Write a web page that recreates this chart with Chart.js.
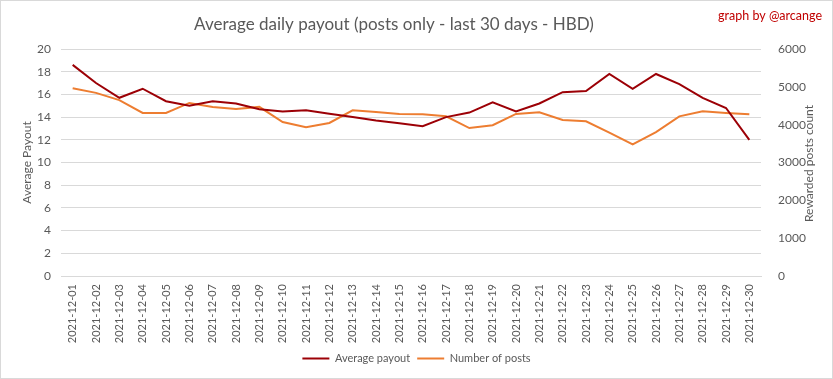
<!DOCTYPE html>
<html>
<head>
<meta charset="utf-8">
<script src="https://cdn.jsdelivr.net/npm/chart.js@4.4.1/dist/chart.umd.min.js"></script>
<style>
  html, body { margin: 0; padding: 0; background: #fff; }
  #wrap { width: 833px; height: 379px; box-sizing: border-box; border: 1px solid #d9d9d9; }
  canvas { display: block; }
</style>
</head>
<body>
<div id="wrap"><canvas id="chart" width="831" height="377"></canvas></div>
<script>
// dates shown on the x axis
const days = [
  "2021-12-01", "2021-12-02", "2021-12-03", "2021-12-04", "2021-12-05",
  "2021-12-06", "2021-12-07", "2021-12-08", "2021-12-09", "2021-12-10",
  "2021-12-11", "2021-12-12", "2021-12-13", "2021-12-14", "2021-12-15",
  "2021-12-16", "2021-12-17", "2021-12-18", "2021-12-19", "2021-12-20",
  "2021-12-21", "2021-12-22", "2021-12-23", "2021-12-24", "2021-12-25",
  "2021-12-26", "2021-12-27", "2021-12-28", "2021-12-29", "2021-12-30"
];

// average payout (HBD), left axis
const avgPayout = [
  18.6, 17.0, 15.7, 16.5, 15.4, 15.0, 15.4, 15.2, 14.7, 14.5,
  14.6, 14.3, 14.0, 13.7, 13.45, 13.2, 14.0, 14.4, 15.3, 14.5,
  15.2, 16.2, 16.3, 17.8, 16.5, 17.8, 16.9, 15.7, 14.8, 12.0
];

// rewarded posts count, right axis
const postCount = [
  4965, 4840, 4650, 4310, 4310, 4575, 4470, 4415, 4470, 4070,
  3930, 4045, 4380, 4335, 4280, 4275, 4220, 3910, 3985, 4285,
  4330, 4125, 4090, 3790, 3480, 3805, 4220, 4355, 4310, 4275
];

const leftTicks = [0, 2, 4, 6, 8, 10, 12, 14, 16, 18, 20];
const rightTicks = [0, 1000, 2000, 3000, 4000, 5000, 6000];

const FONT = "Lato, 'Liberation Sans', sans-serif";
const GREY = "#595959";

// title, credit and right axis title (reads bottom to top like the left one)
const extraText = {
  id: "extraText",
  afterDraw(chart) {
    const ctx = chart.ctx;
    const area = chart.chartArea;
    ctx.save();
    ctx.textBaseline = "middle";
    ctx.fillStyle = GREY;
    ctx.font = "17px " + FONT;
    ctx.textAlign = "center";
    ctx.fillText("Average daily payout (posts only - last 30 days - HBD)", 393, 24);

    ctx.fillStyle = "#c00000";
    ctx.font = "12.5px " + FONT;
    ctx.textAlign = "right";
    ctx.fillText("graph by @arcange", 821, 15);

    ctx.fillStyle = GREY;
    ctx.font = "12px " + FONT;
    ctx.textAlign = "center";
    ctx.translate(808, (area.top + area.bottom) / 2 + 1);
    ctx.rotate(-Math.PI / 2);
    ctx.fillText("Rewarded posts count", 0, 0);
    ctx.restore();
  }
};

new Chart(document.getElementById("chart"), {
  type: "line",
  data: {
    labels: days,
    datasets: [
      {
        label: "Average payout",
        data: avgPayout,
        yAxisID: "y",
        borderColor: "#9c0006",
        backgroundColor: "#9c0006",
        borderWidth: 2,
        pointRadius: 0,
        tension: 0
      },
      {
        label: "Number of posts",
        data: postCount,
        yAxisID: "y1",
        borderColor: "#ed7d31",
        backgroundColor: "#ed7d31",
        borderWidth: 2,
        pointRadius: 0,
        tension: 0
      }
    ]
  },
  options: {
    responsive: false,
    animation: false,
    layout: { padding: { top: 48, bottom: 4, left: 0, right: 0 } },
    plugins: {
      title: { display: false },
      tooltip: { enabled: false },
      legend: {
        position: "bottom",
        labels: {
          usePointStyle: true,
          pointStyle: "line",
          pointStyleWidth: 27,
          color: GREY,
          font: { family: FONT, size: 11 },
          padding: 7
        }
      }
    },
    scales: {
      x: {
        offset: true, // points sit in the middle of each day slot
        grid: { display: false, drawTicks: false },
        border: { color: "#d9d9d9" },
        ticks: {
          color: GREY,
          font: { family: FONT, size: 11 },
          minRotation: 90,
          maxRotation: 90,
          autoSkip: false,
          padding: 8
        },
        afterFit: (axis) => { axis.height = 70; }
      },
      y: {
        position: "left",
        min: 0,
        max: 20,
        afterBuildTicks: (axis) => { axis.ticks = leftTicks.map(v => ({ value: v })); },
        grid: { color: "#d9d9d9", drawTicks: false },
        border: { display: false },
        ticks: { color: GREY, font: { family: FONT, size: 12 }, padding: 10 },
        title: {
          display: true,
          text: "Average Payout",
          color: GREY,
          font: { family: FONT, size: 12 },
          padding: { top: 19, bottom: 0 }
        },
        afterFit: (axis) => { axis.width = 60; }
      },
      y1: {
        position: "right",
        min: 0,
        max: 6000,
        afterBuildTicks: (axis) => { axis.ticks = rightTicks.map(v => ({ value: v })); },
        grid: { display: false },
        border: { display: false },
        ticks: {
          color: GREY,
          font: { family: FONT, size: 12 },
          padding: 9,
          callback: (v) => String(v)
        },
        afterFit: (axis) => { axis.width = 71; }
      }
    }
  },
  plugins: [extraText]
});
</script>
</body>
</html>
